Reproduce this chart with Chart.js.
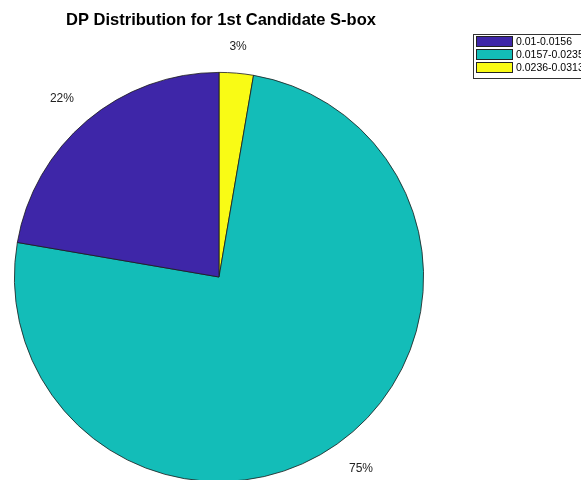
<!DOCTYPE html>
<html>
<head>
<meta charset="utf-8">
<script src="https://cdn.jsdelivr.net/npm/chart.js@4.4.1/dist/chart.umd.min.js"></script>
<style>
  html, body { margin: 0; padding: 0; background: #fff; overflow: hidden; }
  #wrap { width: 581px; height: 500px; }
</style>
</head>
<body>
<div id="wrap"><canvas id="dpPie" width="581" height="500"></canvas></div>
<script>
// DP value ranges and their share (%) of all entries
const ranges = ['0.01-0.0156', '0.0157-0.0235', '0.0236-0.0313'];
const shares = [22.3, 75.0, 2.7];
const colors = ['#3E26A8', '#13BDB8', '#F9FB15'];
const titleText = 'DP Distribution for 1st Candidate S-box';

// MATLAB draws the slices counter-clockwise from the top, so feed them reversed
const revShares = shares.slice().reverse();
const revColors = colors.slice().reverse();
const revRanges = ranges.slice().reverse();

// title, boxed legend and percent labels drawn on top
const decorPlugin = {
    id: 'decor',
    afterDraw(chart) {
        const ctx = chart.ctx;
        ctx.save();

        // title
        ctx.fillStyle = '#000';
        ctx.font = 'bold 16.5px "Liberation Sans", Arial, sans-serif';
        ctx.textAlign = 'center';
        ctx.textBaseline = 'middle';
        ctx.fillText(titleText, 221, 20);

        // percent labels just outside each slice, aligned away from the pie
        const meta = chart.getDatasetMeta(0);
        const total = revShares.reduce((a, b) => a + b, 0);
        ctx.font = '12px "Liberation Sans", Arial, sans-serif';
        ctx.fillStyle = '#222';
        meta.data.forEach((arc, i) => {
            const mid = (arc.startAngle + arc.endAngle) / 2;
            const r = arc.outerRadius * 1.1;
            const cx = Math.cos(mid), cy = Math.sin(mid);
            const x = arc.x + cx * r;
            const y = arc.y + cy * r;
            ctx.textAlign = Math.abs(cx) < 0.2 ? 'center' : (cx < 0 ? 'right' : 'left');
            ctx.textBaseline = cy < 0 ? 'bottom' : 'top';
            ctx.fillText(Math.round(revShares[i] / total * 100) + '%', x, cy < 0 ? y : y + 2);
        });

        // legend box in the top-right corner
        ctx.fillStyle = '#fff';
        ctx.fillRect(473, 34, 120, 44);
        ctx.strokeStyle = '#333';
        ctx.lineWidth = 1;
        ctx.strokeRect(473.5, 34.5, 120, 44);
        ctx.textAlign = 'left';
        ctx.textBaseline = 'middle';
        ctx.font = '10.5px "Liberation Sans", Arial, sans-serif';
        ranges.forEach((label, i) => {
            const y = 36 + i * 13;
            ctx.fillStyle = colors[i];
            ctx.fillRect(476, y, 37, 11);
            ctx.strokeStyle = '#222';
            ctx.strokeRect(476.5, y + 0.5, 36, 10);
            ctx.fillStyle = '#000';
            ctx.fillText(label, 516, y + 6);
        });

        ctx.restore();
    }
};

document.addEventListener('DOMContentLoaded', function() {
    const ctx = document.getElementById('dpPie').getContext('2d');

    new Chart(ctx, {
        type: 'pie',
        data: {
            labels: revRanges,
            datasets: [{
                data: revShares,
                backgroundColor: revColors,
                borderColor: '#1a1a1a',
                borderWidth: 0.8
            }]
        },
        options: {
            responsive: false,
            animation: false,
            rotation: 0,
            layout: { padding: { left: 14, right: 157, top: 72, bottom: 18 } },
            plugins: {
                legend: { display: false },
                title: { display: false },
                tooltip: { enabled: false }
            }
        },
        plugins: [decorPlugin]
    });
});
</script>
</body>
</html>
